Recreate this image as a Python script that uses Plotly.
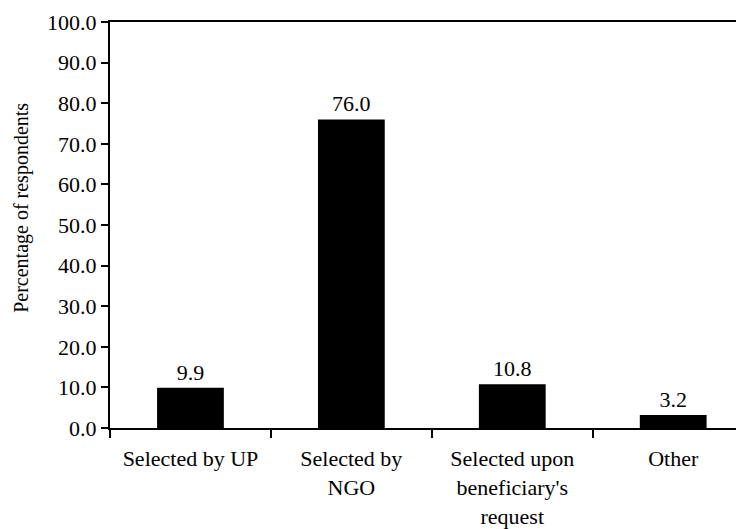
import plotly.graph_objects as go

# data
categories = ["Selected by UP", "Selected by<br>NGO",
              "Selected upon<br>beneficiary's<br>request", "Other"]
percentages = [9.9, 76.0, 10.8, 3.2]
y_ticks = [0, 10, 20, 30, 40, 50, 60, 70, 80, 90, 100]

font_family = "Liberation Serif"

fig = go.Figure(go.Bar(
    x=categories,
    y=percentages,
    width=0.415,
    marker=dict(color="black", line=dict(width=0)),
    texttemplate="%{y:.1f}",
    textposition="outside",
    textfont=dict(size=22, color="black", family=font_family),
    cliponaxis=False,
))

fig.update_layout(
    width=736,
    height=521,
    margin=dict(l=102, r=0, t=14, b=101),
    paper_bgcolor="white",
    plot_bgcolor="white",
    font=dict(family=font_family, size=22, color="black"),
    showlegend=False,
    template="none",
)

fig.update_xaxes(
    range=[-0.5, 3.44],
    showline=True, linecolor="black", linewidth=2, mirror=True,
    ticks="outside", tickson="boundaries", ticklen=8, tickwidth=2, tickcolor="black",
    ticklabelstandoff=10,
    tickfont=dict(family=font_family, size=22),
    showgrid=False, zeroline=False, automargin=False,
)

fig.update_yaxes(
    range=[0, 100],
    tickvals=y_ticks,
    ticktext=[f"{v:.1f}" for v in y_ticks],
    showline=True, linecolor="black", linewidth=2,
    ticks="outside", ticklen=7, tickwidth=2, tickcolor="black",
    tickfont=dict(family=font_family, size=22),
    showgrid=False, zeroline=False, automargin=False,
)

# y title as an annotation so it can sit where the reference has it
fig.add_annotation(
    text="Percentage of respondents",
    textangle=-90,
    xref="paper", yref="paper",
    x=-0.139, y=0.542,
    xanchor="center", yanchor="middle",
    showarrow=False,
    font=dict(size=20, family=font_family, color="black"),
)

fig.write_html("out.html")
